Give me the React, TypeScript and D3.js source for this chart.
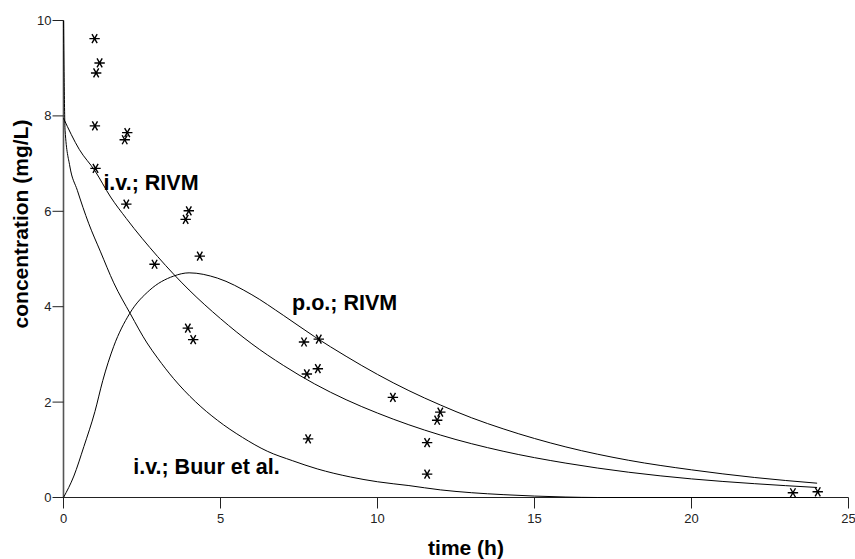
import React from "react";
import * as d3 from "d3";

// Observed data (time h, concentration mg/L)
const obsTime = [0.99, 1.15, 1.04, 1.0, 2.03, 1.95, 1.02, 2.0, 3.99, 3.89, 4.34, 2.9, 3.96, 4.13, 7.66, 8.13, 7.75, 8.1, 7.79, 10.49, 12.0, 11.9, 11.58, 11.58, 23.23, 24.02];
const obsConc = [9.62, 9.11, 8.9, 7.79, 7.65, 7.5, 6.9, 6.15, 6.01, 5.83, 5.06, 4.89, 3.55, 3.31, 3.26, 3.32, 2.59, 2.7, 1.23, 2.1, 1.79, 1.62, 1.15, 0.49, 0.1, 0.12];

// Model curve: i.v.; RIVM
const ivRivmTime = [0, 0.5, 1, 1.5, 2, 3, 4, 5, 6, 7, 8, 9, 10, 12, 14, 16, 18, 20, 22, 24];
const ivRivmConc = [7.95, 7.3, 6.85, 6.3, 5.85, 5.05, 4.35, 3.75, 3.22, 2.77, 2.38, 2.05, 1.77, 1.31, 0.97, 0.72, 0.53, 0.39, 0.29, 0.21];

// Model curve: p.o.; RIVM
const poRivmTime = [0, 0.33, 0.65, 1.0, 1.25, 1.6, 2.1, 2.75, 3.5, 4.0, 4.9, 6, 7, 8, 9, 10, 11, 12, 13, 14, 16, 18, 20, 22, 24];
const poRivmConc = [0, 0.45, 1.07, 1.8, 2.45, 3.17, 3.85, 4.35, 4.64, 4.71, 4.6, 4.25, 3.82, 3.37, 2.96, 2.58, 2.24, 1.94, 1.67, 1.44, 1.06, 0.78, 0.58, 0.42, 0.3];

// Model curve: i.v.; Buur et al.
const buurTime = [0, 0.02, 0.05, 0.2, 0.44, 0.8, 1.18, 1.6, 2.13, 2.66, 3.0, 3.51, 4.2, 4.9, 5.7, 6.49, 7.3, 8.08, 9.14, 10, 11, 12, 13, 14, 15, 16, 17, 24];
const buurConc = [10, 8.8, 7.7, 6.95, 6.44, 5.75, 5.15, 4.5, 3.85, 3.24, 2.92, 2.49, 2.01, 1.62, 1.26, 0.97, 0.77, 0.6, 0.43, 0.33, 0.25, 0.16, 0.1, 0.06, 0.03, 0.01, 0, 0];

const xTicks = [0, 5, 10, 15, 20, 25];
const yTicks = [0, 2, 4, 6, 8, 10];

const curveLabels = ["i.v.; RIVM", "p.o.; RIVM", "i.v.; Buur et al."];
const labelPos = [
  [1.27, 6.45],
  [7.28, 3.93],
  [2.22, 0.49],
];

export default function App() {
  const W = 855;
  const H = 559;
  const x = d3.scaleLinear().domain([0, 25]).range([63.5, 848.5]);
  const y = d3.scaleLinear().domain([0, 10]).range([497.5, 20.5]);

  const line = d3
    .line<[number, number]>()
    .x((d) => x(d[0]))
    .y((d) => y(d[1]))
    .curve(d3.curveMonotoneX);

  const series = [
    d3.zip(ivRivmTime, ivRivmConc) as [number, number][],
    d3.zip(poRivmTime, poRivmConc) as [number, number][],
    d3.zip(buurTime, buurConc) as [number, number][],
  ];

  const r = 5.2;
  const starPath = (cx: number, cy: number) => {
    let p = "";
    for (const a of [0, 60, 120]) {
      const rad = (a * Math.PI) / 180;
      const dx = r * Math.cos(rad);
      const dy = r * Math.sin(rad);
      p += `M${cx - dx},${cy - dy}L${cx + dx},${cy + dy}`;
    }
    return p;
  };

  const font = "'Liberation Sans', Arial, Helvetica, sans-serif";

  return (
    <svg
      width={W}
      height={H}
      style={{ position: "absolute", left: 0, top: 0, background: "#fff" }}
      fontFamily={font}
    >
      {/* axes */}
      <line x1={x(0)} x2={x(0)} y1={y(10)} y2={y(0)} stroke="#555" strokeWidth={1.6} />
      <line x1={x(0)} x2={x(25)} y1={y(0)} y2={y(0)} stroke="#222" strokeWidth={1} />
      {yTicks.map((t) => (
        <g key={"y" + t}>
          <line x1={x(0) - 11} x2={x(0)} y1={y(t)} y2={y(t)} stroke="#222" />
          <text x={x(0) - 12} y={y(t)} dy="0.35em" textAnchor="end" fontSize={13} fill="#222">
            {t}
          </text>
        </g>
      ))}
      {xTicks.map((t) => (
        <g key={"x" + t}>
          <line x1={x(t)} x2={x(t)} y1={y(0)} y2={y(0) + 11} stroke="#222" />
          <text x={x(t)} y={523} textAnchor="middle" fontSize={13} fill="#222">
            {t}
          </text>
        </g>
      ))}
      <text x={466} y={555} textAnchor="middle" fontSize={21} fontWeight="bold">
        time (h)
      </text>
      <text
        transform={`translate(28,224) rotate(-90)`}
        textAnchor="middle"
        fontSize={21}
        fontWeight="bold"
      >
        concentration (mg/L)
      </text>

      {/* curves */}
      {series.map((s, i) => (
        <path key={"c" + i} d={line(s) || ""} fill="none" stroke="#000" strokeWidth={1} />
      ))}

      {/* observations */}
      {obsTime.map((t, i) => (
        <path key={"o" + i} d={starPath(x(t), y(obsConc[i]))} stroke="#000" strokeWidth={1.4} fill="none" />
      ))}

      {/* curve labels */}
      {curveLabels.map((l, i) => (
        <text key={"l" + i} x={x(labelPos[i][0])} y={y(labelPos[i][1])} fontSize={21.5} fontWeight="bold">
          {l}
        </text>
      ))}
    </svg>
  );
}
